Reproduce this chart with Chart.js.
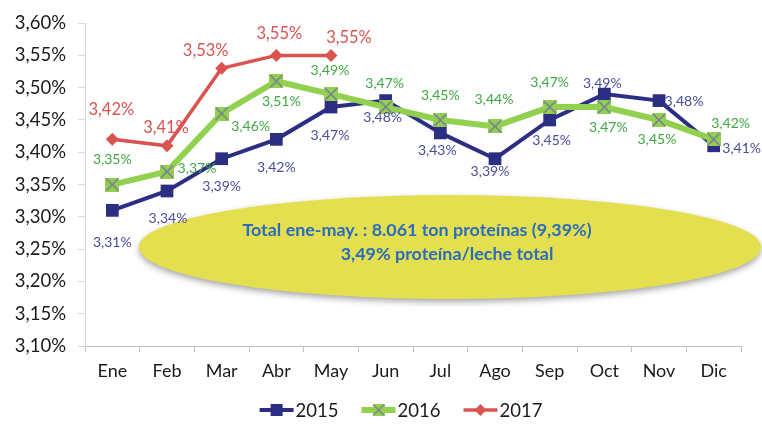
<!DOCTYPE html>
<html>
<head>
<meta charset="utf-8">
<script src="https://cdn.jsdelivr.net/npm/chart.js@4.4.1/dist/chart.umd.min.js"></script>
<style>
  body { margin: 0; background: #fff; }
</style>
</head>
<body>
<canvas id="myChart" width="762" height="426"></canvas>
<script>
// data
const months = ['Ene', 'Feb', 'Mar', 'Abr', 'May', 'Jun', 'Jul', 'Ago', 'Sep', 'Oct', 'Nov', 'Dic'];
const values2015 = [3.31, 3.34, 3.39, 3.42, 3.47, 3.48, 3.43, 3.39, 3.45, 3.49, 3.48, 3.41];
const values2016 = [3.35, 3.37, 3.46, 3.51, 3.49, 3.47, 3.45, 3.44, 3.47, 3.47, 3.45, 3.42];
const values2017 = [3.42, 3.41, 3.53, 3.55, 3.55];
const seriesNames = ['2015', '2016', '2017'];
const noteLines = ['Total ene-may. : 8.061 ton proteínas (9,39%)', '3,49% proteína/leche total'];

const BLUE = '#2b2e83';
const GREEN = '#92d050';
const RED = '#d9534f';
const FONT = 'Lato, "Open Sans", sans-serif';

const fmt = v => v.toFixed(2).replace('.', ',') + '%';

// green "x in a square" marker
function xMarker(size) {
    const c = document.createElement('canvas');
    c.width = size; c.height = size;
    const g = c.getContext('2d');
    g.fillStyle = GREEN;
    g.fillRect(0, 0, size, size);
    g.strokeStyle = '#7a7a9a';
    g.lineWidth = 1.5;
    g.beginPath();
    g.moveTo(1, 1); g.lineTo(size - 1, size - 1);
    g.moveTo(size - 1, 1); g.lineTo(1, size - 1);
    g.stroke();
    return c;
}
const greenMarker = xMarker(14);

// where each value label sits relative to its point (px)
const offsets2015 = [[0, 32], [1, 27], [0, 28], [0, 28], [-1, 28], [-3, 17], [-3, 18], [-5, 13], [2, 21], [-2, -11], [25, 1], [28, 3]];
const offsets2016 = [[0, -25], [30, -3], [29, 13], [5, 20], [-1, -24], [-1, -24], [0, -24], [-1, -27], [0, -25], [4, 20], [-2, 20], [17, -16]];
const offsets2017 = [[-1, -30], [-1, -18], [-16, -18], [3, -22], [18, -18]];

const pointLabels = {
    id: 'pointLabels',
    afterDatasetsDraw(chart) {
        const ctx = chart.ctx;
        chart.data.datasets.forEach((ds, i) => {
            const meta = chart.getDatasetMeta(i);
            ctx.save();
            ctx.font = ds.labelFont;
            ctx.fillStyle = ds.labelColor;
            ctx.textAlign = 'center';
            ctx.textBaseline = 'middle';
            meta.data.forEach((pt, j) => {
                const off = ds.labelOffsets[j];
                ctx.fillText(fmt(ds.data[j]), pt.x + off[0], pt.y + off[1]);
            });
            ctx.restore();
        });
    }
};

// yellow note bubble behind the lines
const noteBubble = {
    id: 'noteBubble',
    beforeDatasetsDraw(chart) {
        const ctx = chart.ctx;
        ctx.save();
        ctx.shadowColor = 'rgba(0,0,0,0.35)';
        ctx.shadowBlur = 6;
        ctx.shadowOffsetY = 3;
        ctx.fillStyle = '#e3df4e';
        ctx.beginPath();
        ctx.ellipse(450, 247, 311, 52, 0, 0, Math.PI * 2);
        ctx.fill();
        ctx.restore();

        ctx.save();
        ctx.font = 'bold 15px ' + FONT;
        // size the text so the first line spans about 349px like the original
        const size = 15 * 349 / ctx.measureText(noteLines[0]).width;
        ctx.font = 'bold ' + size.toFixed(1) + 'px ' + FONT;
        ctx.fillStyle = '#2a6cbf';
        ctx.textAlign = 'center';
        ctx.textBaseline = 'middle';
        ctx.fillText(noteLines[0], 417, 230);
        ctx.fillText(noteLines[1], 447, 254);
        ctx.restore();
    }
};

// legend: line + marker + year
const lineLegend = {
    id: 'lineLegend',
    afterDraw(chart) {
        const ctx = chart.ctx;
        ctx.save();
        ctx.font = '18.5px ' + FONT;
        ctx.textBaseline = 'middle';
        const y = 410;
        const lineW = 34;
        const widths = seriesNames.map(n => ctx.measureText(n).width);
        const total = widths.reduce((a, w) => a + lineW + 2 + w, 0) + 23 * 2;
        let x = 401 - total / 2;
        chart.data.datasets.forEach((ds, i) => {
            ctx.strokeStyle = ds.borderColor;
            ctx.lineWidth = ds.borderWidth;
            ctx.beginPath();
            ctx.moveTo(x, y); ctx.lineTo(x + lineW, y);
            ctx.stroke();
            const cx = x + lineW / 2;
            if (i === 0) {
                ctx.fillStyle = BLUE;
                ctx.fillRect(cx - 6, y - 6, 12, 12);
            } else if (i === 1) {
                ctx.drawImage(greenMarker, cx - 6, y - 6, 12, 12);
            } else {
                ctx.fillStyle = RED;
                ctx.beginPath();
                ctx.moveTo(cx, y - 6); ctx.lineTo(cx + 6, y); ctx.lineTo(cx, y + 6); ctx.lineTo(cx - 6, y);
                ctx.closePath();
                ctx.fill();
            }
            ctx.fillStyle = '#1a1a1a';
            ctx.fillText(seriesNames[i], x + lineW + 2, y + 1);
            x += lineW + 2 + widths[i] + 23;
        });
        ctx.restore();
    }
};

const ctx = document.getElementById('myChart').getContext('2d');
new Chart(ctx, {
    type: 'line',
    data: {
        labels: months,
        datasets: [{
            label: seriesNames[0],
            data: values2015,
            borderColor: BLUE,
            backgroundColor: BLUE,
            borderWidth: 4,
            pointStyle: 'rect',
            pointRadius: 9,
            pointBorderWidth: 0,
            order: 2,
            labelFont: '14px ' + FONT,
            labelColor: '#4a4c9c',
            labelOffsets: offsets2015
        }, {
            label: seriesNames[1],
            data: values2016,
            borderColor: GREEN,
            backgroundColor: GREEN,
            borderWidth: 6,
            pointStyle: greenMarker,
            pointRadius: 7,
            order: 1,
            labelFont: '14px ' + FONT,
            labelColor: '#3fa744',
            labelOffsets: offsets2016
        }, {
            label: seriesNames[2],
            data: values2017,
            borderColor: RED,
            backgroundColor: RED,
            borderWidth: 3.5,
            pointStyle: 'rectRot',
            pointRadius: 6.5,
            pointBorderWidth: 0,
            order: 0,
            labelFont: '16.5px ' + FONT,
            labelColor: RED,
            labelOffsets: offsets2017
        }]
    },
    options: {
        responsive: false,
        animation: false,
        layout: { padding: { top: 22, right: 21, bottom: 0, left: 0 } },
        plugins: {
            legend: { display: false },
            tooltip: { enabled: false }
        },
        scales: {
            x: {
                offset: true,
                afterFit: s => { s.height = 80; },
                border: { color: '#bfbfbf', width: 1 },
                grid: { offset: true, drawOnChartArea: false, tickLength: 6, color: '#bfbfbf' },
                ticks: { color: '#1a1a1a', font: { family: FONT, size: 18 }, padding: 8 }
            },
            y: {
                min: 3.10,
                max: 3.60,
                afterFit: s => { s.width = 85; },
                border: { color: '#d9d9d9', width: 1 },
                grid: { drawOnChartArea: false, tickLength: 7, color: '#d9d9d9' },
                ticks: {
                    stepSize: 0.05,
                    color: '#1a1a1a',
                    font: { family: FONT, size: 18.5 },
                    padding: 12,
                    callback: v => fmt(v)
                }
            }
        }
    },
    plugins: [noteBubble, pointLabels, lineLegend]
});
</script>
</body>
</html>
